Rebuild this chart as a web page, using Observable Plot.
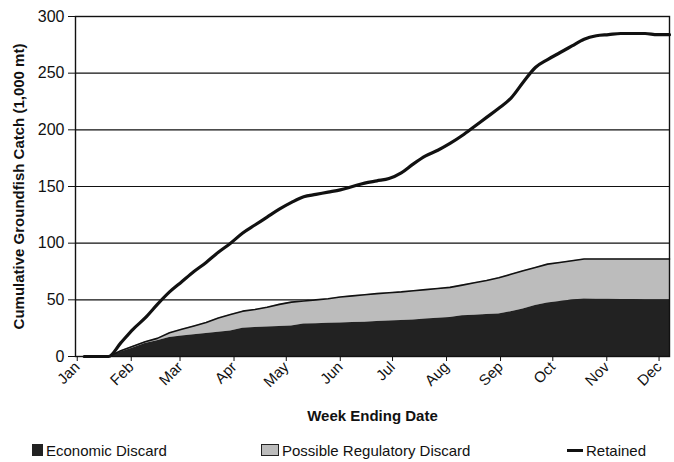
<!DOCTYPE html>
<html>
<head>
<meta charset="utf-8">
<script src="https://cdn.jsdelivr.net/npm/d3@7"></script>
<script src="https://cdn.jsdelivr.net/npm/@observablehq/plot@0.6"></script>
<style>
  body { margin: 0; background: #fff; font-family: "Liberation Sans", Arial, sans-serif; }
  #wrap { position: relative; width: 674px; height: 462px; }
  #legend { position: absolute; top: 440px; left: 0; width: 674px; height: 20px; font-size: 15px; color: #111; }
  .item { position: absolute; top: 0; display: flex; align-items: center; height: 20px; }
  .sw { width: 11px; height: 12px; margin-right: 3px; box-sizing: border-box; }
  .ln { width: 16px; height: 3px; background: #111; margin-right: 3px; }
</style>
</head>
<body>
<div id="wrap">
  <div id="chart"></div>
  <div id="legend">
    <div class="item" style="left:32px"><div class="sw" style="background:#222"></div><span>Economic Discard</span></div>
    <div class="item" style="left:261px"><div class="sw" style="width:18px;background:#bcbcbc;border:1px solid #222"></div><span>Possible Regulatory Discard</span></div>
    <div class="item" style="left:567px"><div class="ln"></div><span>Retained</span></div>
  </div>
</div>
<script>
// Week ending dates
const weekEnding = [
  "1995-01-05","1995-01-12","1995-01-19","1995-01-26",
  "1995-02-02","1995-02-09","1995-02-16","1995-02-23",
  "1995-03-02","1995-03-09","1995-03-16","1995-03-23","1995-03-30",
  "1995-04-06","1995-04-13","1995-04-20","1995-04-27",
  "1995-05-04","1995-05-11","1995-05-18","1995-05-25",
  "1995-06-01","1995-06-08","1995-06-15","1995-06-22","1995-06-29",
  "1995-07-06","1995-07-13","1995-07-20","1995-07-27",
  "1995-08-03","1995-08-10","1995-08-17","1995-08-24","1995-08-31",
  "1995-09-07","1995-09-14","1995-09-21","1995-09-28",
  "1995-10-05","1995-10-12","1995-10-19","1995-10-26",
  "1995-11-02","1995-11-09","1995-11-16","1995-11-23","1995-11-30",
  "1995-12-07"
];
// Cumulative catch, 1,000 mt
const economicDiscard = [
  0, 0, 0, 4,
  7.5, 11.5, 14, 16.7,
  18, 19.3, 20.2, 21.3, 22.5,
  25, 25.5, 26, 26.5,
  27, 28.6, 29, 29.3,
  29.6, 30, 30.2, 30.8, 31.3,
  31.8, 32.3, 33, 33.8,
  34.5, 36, 36.5, 37, 37.5,
  39.5, 42, 45, 47.3,
  48.5, 49.8, 50.7, 50.5,
  50.5, 50.3, 50.2, 50.1, 50,
  50
];
const regulatoryDiscard = [
  0, 0, 0, 1,
  1.5, 1.5, 2, 4.3,
  6, 7.7, 9.8, 12.7, 14.5,
  15, 16, 17.5, 19.5,
  21, 20.4, 21, 21.7,
  22.9, 23.5, 24.3, 24.7, 25,
  25.2, 25.7, 26, 26.2,
  26.5, 27, 28.5, 30, 32,
  33, 33.7, 33.5, 34.2,
  34.5, 34.7, 35.3, 35.5,
  35.5, 35.7, 35.8, 35.9, 36,
  36
];
const retained = [
  0, 0, 0, 12,
  24, 34, 46, 57,
  66, 75, 83, 92, 100,
  109, 116, 123, 130,
  136, 141, 143, 145,
  147, 150, 153, 155, 157,
  162, 170, 177, 182,
  188, 195, 203, 211, 219,
  228, 242, 255, 262,
  268, 274, 280, 283,
  284, 285, 285, 285, 284,
  284
];
const monthLabels = ["Jan","Feb","Mar","Apr","May","Jun","Jul","Aug","Sep","Oct","Nov","Dec"];
const yTicks = [0, 50, 100, 150, 200, 250, 300];

const rows = weekEnding.map((d, i) => ({
  date: new Date(d + "T00:00:00Z"),
  econ: economicDiscard[i],
  total: economicDiscard[i] + regulatoryDiscard[i],
  retained: retained[i]
}));
const monthTicks = monthLabels.map((m, i) => new Date(Date.UTC(1995, i, 1)));

const chart = Plot.plot({
  width: 674,
  height: 430,
  marginLeft: 75,
  marginRight: 5,
  marginTop: 16,
  marginBottom: 74,
  style: { fontFamily: "'Liberation Sans', Arial, sans-serif", fontSize: "15px", color: "#111", background: "#fff" },
  x: { type: "utc", domain: [new Date("1994-12-31T00:00:00Z"), new Date("1995-12-07T00:00:00Z")] },
  y: { domain: [0, 300] },
  marks: [
    Plot.ruleY(yTicks.filter(d => d > 0), { stroke: "#111", strokeWidth: 1.2 }),
    Plot.areaY(rows, { x: "date", y1: "econ", y2: "total", fill: "#bcbcbc" }),
    Plot.areaY(rows, { x: "date", y1: 0, y2: "econ", fill: "#222" }),
    Plot.lineY(rows, { x: "date", y: "total", stroke: "#111", strokeWidth: 1.6 }),
    Plot.lineY(rows, { x: "date", y: "retained", stroke: "#111", strokeWidth: 3.2, strokeLinejoin: "round", curve: "monotone-x" }),
    Plot.frame({ stroke: "#111", strokeWidth: 1.4 }),
    Plot.axisY({ ticks: yTicks, tickSize: 7, tickPadding: 4, fontSize: 16, stroke: "#111", label: "Cumulative Groundfish Catch (1,000 mt)", labelAnchor: "center", labelArrow: "none", labelOffset: 62 }),
    Plot.axisX({ ticks: monthTicks, tickFormat: d => monthLabels[d.getUTCMonth()], tickRotate: -45, tickSize: 5, tickPadding: 3, fontSize: 15, stroke: "#111", label: "Week Ending Date", labelAnchor: "center", labelArrow: "none", labelOffset: 64 })
  ]
});
document.getElementById("chart").appendChild(chart);
// bold axis titles
d3.select(chart).selectAll("g[aria-label='y-axis label'] text, g[aria-label='x-axis label'] text")
  .attr("font-weight", "bold").attr("font-size", "15px");
</script>
</body>
</html>
